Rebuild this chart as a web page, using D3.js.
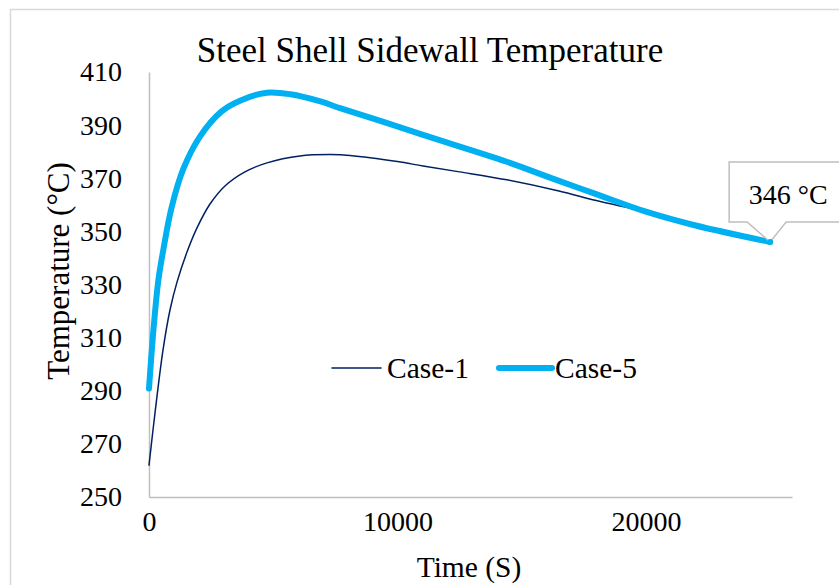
<!DOCTYPE html>
<head>
<meta charset="utf-8">
<title>Steel Shell Sidewall Temperature</title>
<script type="text/javascript" src="https://d3js.org/d3.v7.min.js"></script>
<style>
  body { margin: 0; background: #fff; }
  text { font-family: "Liberation Serif", "Times New Roman", serif; fill: #000; }
</style>
</head>

<body>
<div id="container"></div>
<script>

// values (time in s, temperature in deg C)
const case1Time = [0, 241, 563, 845, 1127, 1529, 1932, 2455, 3058, 3863, 4748, 6076, 7284, 8089,
                   10000, 11030, 12500, 14400, 16500, 18000, 20000, 22000, 25000]
const case1Temp = [262, 281.6, 305.3, 320.4, 330.9, 342.2, 351.3, 360.3, 367.1, 372.4, 375.8, 378.4, 378.9, 378.6,
                   376.3, 374.6, 372.4, 369.4, 365.2, 361.6, 357.4, 352.4, 346]
const case5Time = [0, 175, 375, 575, 910, 1380, 2050, 2900, 3660, 4740, 5700, 6900, 7690,
                   9500, 11030, 14400, 16500, 18000, 20000, 22000, 25000]
const case5Temp = [290.8, 312.5, 331.5, 343, 359, 373.5, 385.7, 395, 399.2, 402.2, 401.6, 398.9, 396.4,
                   391, 386.3, 376.2, 369, 364, 357.4, 352.2, 346]
const yTicks = [250, 270, 290, 310, 330, 350, 370, 390, 410]
const xTicks = [0, 10000, 20000]
const seriesNames = ["Case-1", "Case-5"]
const calloutLabel = "346 °C"

function chart() {
  const width = 839; const height = 585;
  const margin = ({top: 72, right: 47, bottom: 88, left: 149})
  const serif = "Liberation Serif, Times New Roman, serif"

  const svg = d3.select("div#container").append("svg")
      .attr("width", width).attr("height", height)

  // chart area frame
  svg.append("rect")
     .attr("x", 10.5).attr("y", 9.5).attr("width", width + 20).attr("height", height + 20)
     .attr("fill", "#fff").attr("stroke", "#d9d9d9").attr("stroke-width", 1.5)

  const xScale = d3.scaleLinear().domain([0, 25880])
    .range([margin.left, width - margin.right])
  const yScale = d3.scaleLinear().domain([250, 410])
    .range([height - margin.bottom, margin.top])
  const zScale = d3.scaleOrdinal().domain(seriesNames).range(["#002060", "#00b0f0"])
  const wScale = d3.scaleOrdinal().domain(seriesNames).range([1.5, 6])

  // axis() sets its own font attrs, so ours go on after the call
  const xAxis = g => g
    .attr("transform", `translate(0,${height - margin.bottom})`)
    .call(d3.axisBottom(xScale).tickValues(xTicks).tickSize(0).tickPadding(14).tickFormat(d3.format("d")))
    .attr("font-family", serif).attr("font-size", 28)
    .call(g => g.select(".domain").attr("stroke", "#bfbfbf").attr("stroke-width", 1.5))
    .call(g => g.selectAll(".tick text").attr("dy", "0.71em"))
  const yAxis = g => g
    .attr("transform", `translate(${margin.left},0)`)
    .call(d3.axisLeft(yScale).tickValues(yTicks).tickSize(0).tickPadding(27))
    .attr("font-family", serif).attr("font-size", 28)
    .call(g => g.select(".domain").attr("stroke", "#bfbfbf").attr("stroke-width", 1.5))

  svg.append("g").call(xAxis)
  svg.append("g").call(yAxis)

  // titles
  svg.append("text").attr("x", 430).attr("y", 62).attr("text-anchor", "middle")
     .attr("font-size", 35).text("Steel Shell Sidewall Temperature")
  svg.append("text").attr("x", 469).attr("y", 577).attr("text-anchor", "middle")
     .attr("font-size", 29.5).text("Time (S)")
  svg.append("text").attr("transform", "translate(69,271) rotate(-90)")
     .attr("text-anchor", "middle").attr("font-size", 31).text("Temperature (°C)")

  const series = [
    {name: "Case-1", values: case1Time.map((t, i) => [t, case1Temp[i]])},
    {name: "Case-5", values: case5Time.map((t, i) => [t, case5Temp[i]])}
  ]

  const line = d3.line()
    .curve(d3.curveCatmullRom.alpha(0.5))
    .x(d => xScale(d[0]))
    .y(d => yScale(d[1]))

  svg.append("g").attr("fill", "none")
      .attr("stroke-linejoin", "round").attr("stroke-linecap", "round")
    .selectAll("path").data(series)
    .join("path")
    .attr("d", d => line(d.values))
    .attr("stroke", d => zScale(d.name))
    .attr("stroke-width", d => wScale(d.name))

  // legend
  const legend = svg.append("g").selectAll("g").data(seriesNames).join("g")
    .attr("transform", (d, i) => `translate(${i === 0 ? 332 : 499},368)`)
  legend.append("line").attr("x1", 0).attr("x2", (d, i) => i === 0 ? 49 : 53)
    .attr("stroke", d => zScale(d)).attr("stroke-width", d => wScale(d))
    .attr("stroke-linecap", "round")
  legend.append("text").attr("x", (d, i) => i === 0 ? 55 : 56).attr("dy", "0.35em")
    .attr("font-size", 29.5).text(d => d)

  // callout on the last Case-5 point
  const last = series[1].values[series[1].values.length - 1]
  const px = xScale(last[0]); const py = yScale(last[1])
  const bx = px - 41; const by = py - 80; const bw = 118; const bh = 60
  const callout = svg.append("g")
  callout.append("path")
    .attr("d", `M${bx},${by} H${bx + bw} V${by + bh} H${px + 16} L${px},${py} L${px - 23},${by + bh} H${bx} Z`)
    .attr("fill", "#fff").attr("stroke", "#bfbfbf").attr("stroke-width", 1.5)
  callout.append("text").attr("x", bx + 59).attr("y", by + 42).attr("text-anchor", "middle")
    .attr("font-size", 28).text(calloutLabel)
  callout.append("circle").attr("cx", px).attr("cy", py).attr("r", 3).attr("fill", "#00b0f0")

  return svg.node()
}

chart()

</script>
</body>
